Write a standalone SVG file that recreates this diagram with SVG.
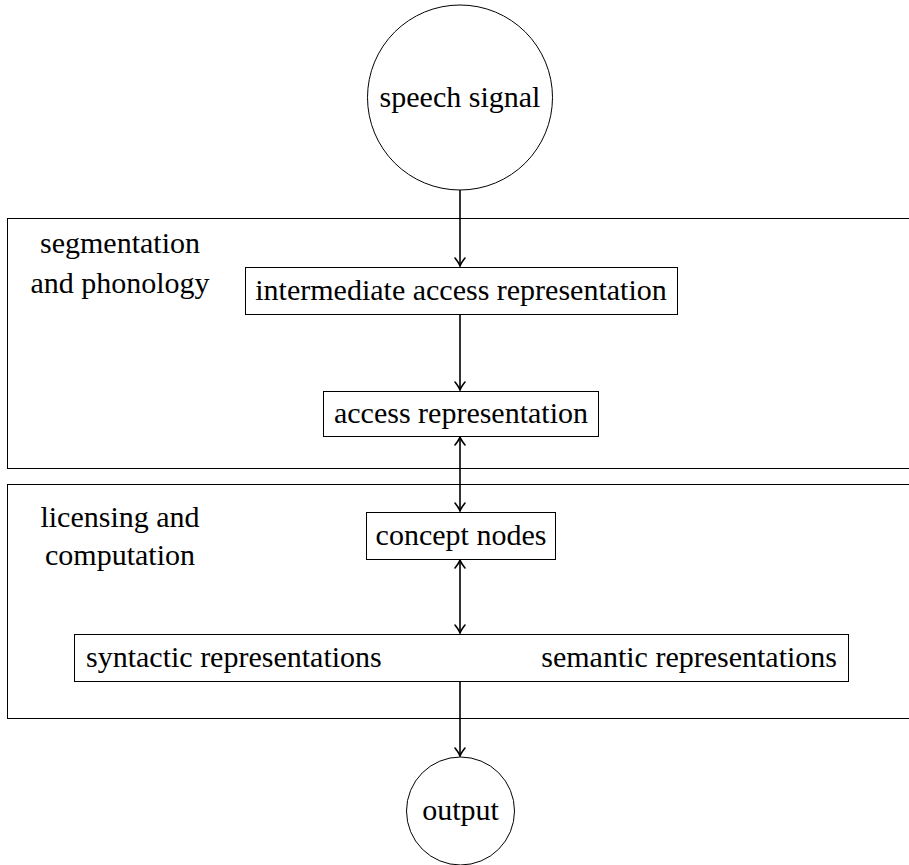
<svg xmlns="http://www.w3.org/2000/svg" width="909" height="865" viewBox="0 0 909 865">
<style>
text{font-size:30px;fill:#000}
.box{fill:#fff;stroke:#000;stroke-width:1}
.grp{fill:none;stroke:#000;stroke-width:1}
.c{stroke:#000;stroke-width:1.6;fill:none}
</style>
<defs>
<marker id="ah" markerUnits="userSpaceOnUse" viewBox="-10 -6 12 12" markerWidth="12" markerHeight="12" refX="0" refY="0" orient="auto-start-reverse">
<path d="M-8,-5 Q-3,-1 0,0 Q-3,1 -8,5" fill="none" stroke="#000" stroke-width="1.6" stroke-linecap="round"/>
</marker>
</defs>
<g font-family="'Liberation Serif', 'DejaVu Serif', serif">
<g id="group-segmentation">
<rect class="grp" x="7.5" y="218.5" width="902" height="250"/>
<text x="120" y="253" text-anchor="middle">segmentation</text>
<text x="120" y="293" text-anchor="middle">and phonology</text>
</g>
<g id="group-licensing">
<rect class="grp" x="7.5" y="484.5" width="902" height="234"/>
<text x="120" y="527" text-anchor="middle">licensing and</text>
<text x="120" y="565" text-anchor="middle">computation</text>
</g>
<g id="connectors">
<line class="c" x1="460" y1="190" x2="460" y2="266" marker-end="url(#ah)"/>
<line class="c" x1="460" y1="314" x2="460" y2="390" marker-end="url(#ah)"/>
<line class="c" x1="460" y1="437" x2="460" y2="511" marker-start="url(#ah)" marker-end="url(#ah)"/>
<line class="c" x1="460" y1="560" x2="460" y2="633" marker-start="url(#ah)" marker-end="url(#ah)"/>
<line class="c" x1="460" y1="681" x2="460" y2="756" marker-end="url(#ah)"/>
</g>
<g id="speech-signal">
<circle class="box" cx="460" cy="97.5" r="92.5"/>
<text x="460" y="107" text-anchor="middle">speech signal</text>
</g>
<g id="intermediate-access-representation">
<rect class="box" x="245.5" y="267.5" width="432" height="47"/>
<text x="461" y="300" text-anchor="middle">intermediate access representation</text>
</g>
<g id="access-representation">
<rect class="box" x="323.5" y="391.5" width="275" height="45"/>
<text x="461" y="423" text-anchor="middle">access representation</text>
</g>
<g id="concept-nodes">
<rect class="box" x="366.5" y="512.5" width="189" height="47"/>
<text x="461" y="545" text-anchor="middle">concept nodes</text>
</g>
<g id="syntactic-semantic">
<rect class="box" x="74.5" y="634.5" width="774" height="47"/>
<text x="86" y="667">syntactic representations</text>
<text x="837" y="667" text-anchor="end">semantic representations</text>
</g>
<g id="output">
<circle class="box" cx="460.5" cy="811" r="54"/>
<text x="460.5" y="820" text-anchor="middle">output</text>
</g>
</g>
</svg>
